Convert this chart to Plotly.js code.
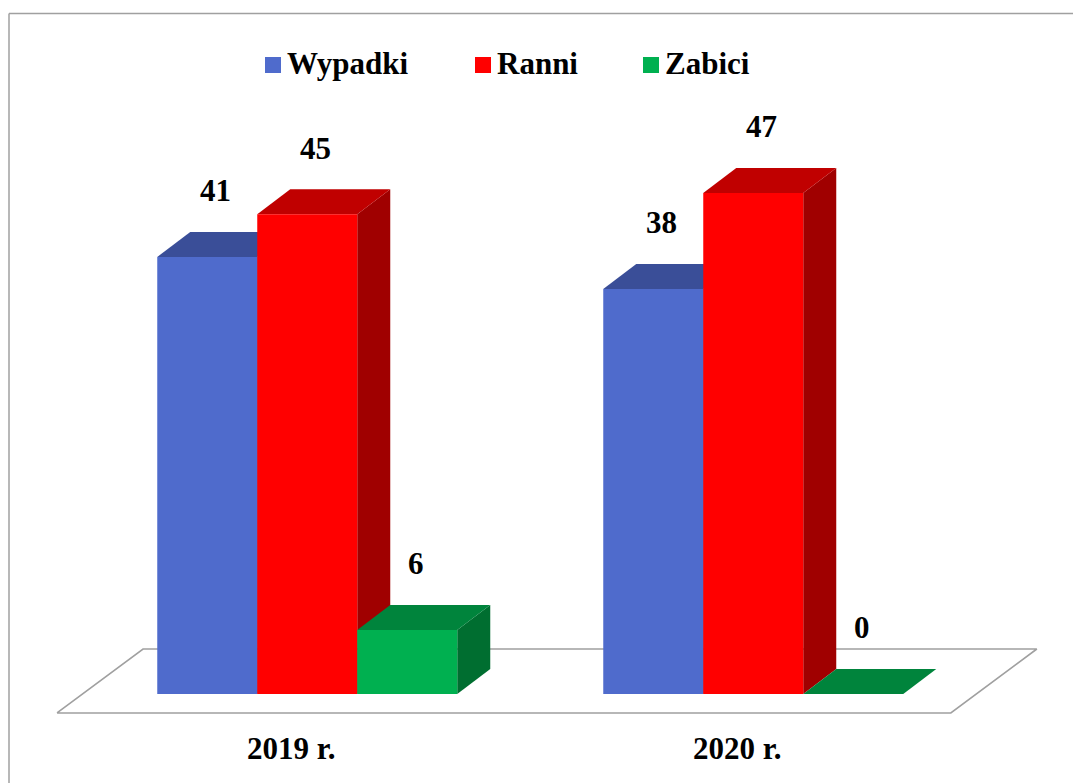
<!DOCTYPE html>
<html>
<head>
<meta charset="utf-8">
<script src="https://cdn.plot.ly/plotly-3.0.1.min.js"></script>
<style>html,body{margin:0;padding:0;background:#fff;}#chart{width:1073px;height:783px;}</style>
</head>
<body>
<div id="chart"></div>
<script>
// ---- data ----
const categories = ['2019 r.', '2020 r.'];
const seriesNames = ['Wypadki', 'Ranni', 'Zabici'];
const wypadki = [41, 38];
const ranni = [45, 47];
const zabici = [6, 0];

// ---- styling / geometry ----
const series = [wypadki, ranni, zabici];
const frontColors = ['#4F6BCC', '#FF0000', '#00B050'];
const topColors = ['#3A4E98', '#C00000', '#00843C'];
const sideColors = ['#33458A', '#A00000', '#006E30'];
const FONT = 'Liberation Serif';
const FS = 31;
const PXX = 446, PXY = 10.66;          // pixels per unit
const BW = 100 / PXX;                   // bar width
const DX = 33 / PXX, DY = 25 / PXY;     // 3D depth offset
const W = 1073, H = 783;

const traces = [];
function poly(xs, ys, color, line) {
  traces.push({
    type: 'scatter', mode: 'lines', x: xs.concat([xs[0]]), y: ys.concat([ys[0]]),
    fill: 'toself', fillcolor: color,
    line: line || {width: 0, color: color},
    hoverinfo: 'skip', showlegend: false
  });
}

// floor
const fl = {x0: -0.561, x1: 1.443, yF: -1.78, yB: 4.22, sh: 86 / PXX};
poly([fl.x0, fl.x1, fl.x1 + fl.sh, fl.x0 + fl.sh], [fl.yF, fl.yF, fl.yB, fl.yB], '#FFFFFF',
     {width: 1.6, color: '#A0A0A0'});

const annotations = [];
categories.forEach((cat, i) => {
  series.forEach((vals, s) => {
    const v = vals[i];
    const x0 = i + (s - 1.5) * BW, x1 = x0 + BW;
    poly([x1, x1 + DX, x1 + DX, x1], [0, DY, v + DY, v], sideColors[s]);
    poly([x0, x1, x1 + DX, x0 + DX], [v, v, v + DY, v + DY], topColors[s]);
    poly([x0, x1, x1, x0], [0, 0, v, v], frontColors[s]);
    annotations.push({
      x: (x0 + x1) / 2 + DX / 4, y: v + 6.2, xref: 'x', yref: 'y',
      text: '<b>' + v + '</b>', showarrow: false,
      font: {family: FONT, size: FS, color: '#000'}, xanchor: 'center', yanchor: 'middle'
    });
  });
  annotations.push({
    x: i - DX / 2, y: -5.07, xref: 'x', yref: 'y',
    text: '<b>' + cat + '</b>', showarrow: false,
    font: {family: FONT, size: FS, color: '#000'}, xanchor: 'center', yanchor: 'middle'
  });
});

// manual legend
const legendSquareX = [265, 475, 643];
const shapes = [];
seriesNames.forEach((name, s) => {
  const sx = legendSquareX[s];
  shapes.push({type: 'rect', xref: 'paper', yref: 'paper',
    x0: sx / W, x1: (sx + 16) / W, y0: 1 - 73 / H, y1: 1 - 57 / H,
    fillcolor: frontColors[s], line: {width: 0}});
  annotations.push({
    x: (sx + 20) / W, y: 1 - 64 / H, xref: 'paper', yref: 'paper',
    text: '<b>' + name + '</b>', showarrow: false,
    font: {family: FONT, size: FS, color: '#000'}, xanchor: 'left', yanchor: 'middle'
  });
});
// chart border
shapes.push({type: 'line', xref: 'paper', yref: 'paper', x0: 9 / W, x1: 1.01, y0: 1 - 13.5 / H, y1: 1 - 13.5 / H,
  line: {color: '#A0A0A0', width: 1.5}});
shapes.push({type: 'line', xref: 'paper', yref: 'paper', x0: 9 / W, x1: 9 / W, y0: 1 - 13.5 / H, y1: -0.01,
  line: {color: '#A0A0A0', width: 1.5}});

const x0r = -307.25 / PXX;
const y0r = -(H - 694) / PXY;
const layout = {
  width: W, height: H, autosize: false,
  margin: {l: 0, r: 0, t: 0, b: 0, pad: 0},
  paper_bgcolor: '#FFFFFF', plot_bgcolor: '#FFFFFF',
  showlegend: false,
  font: {family: FONT},
  xaxis: {range: [x0r, x0r + W / PXX], visible: false, fixedrange: true},
  yaxis: {range: [y0r, y0r + H / PXY], visible: false, fixedrange: true},
  annotations: annotations, shapes: shapes
};
Plotly.newPlot('chart', traces, layout, {displayModeBar: false, staticPlot: true});
</script>
</body>
</html>
